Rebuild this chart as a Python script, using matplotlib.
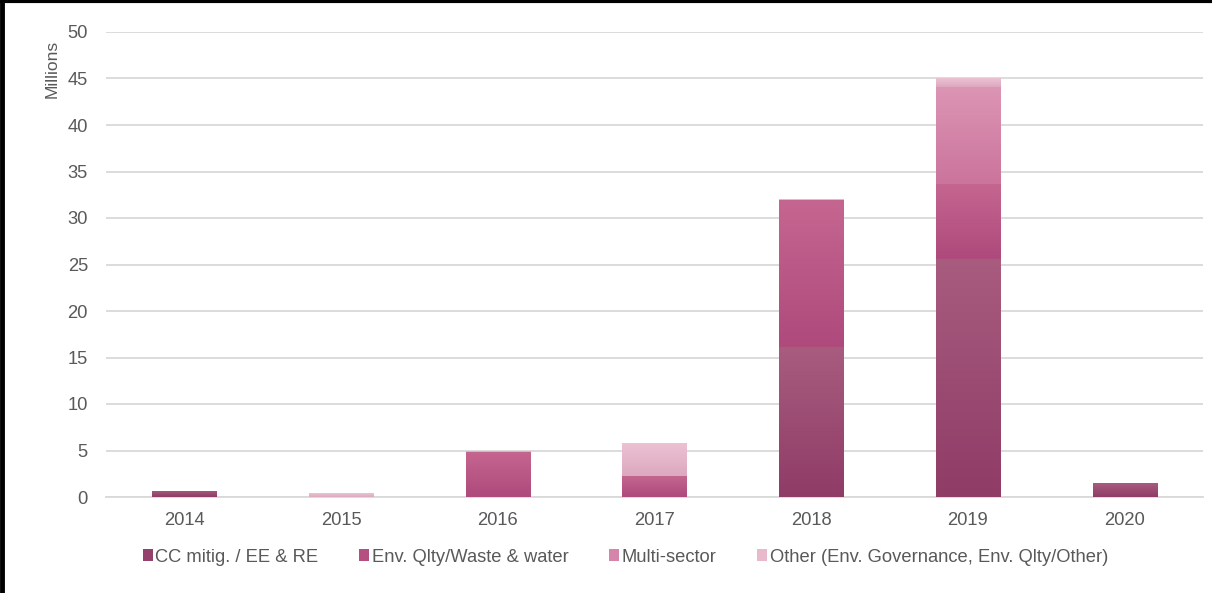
import matplotlib
matplotlib.use("Agg")
import matplotlib.pyplot as plt
import numpy as np
from matplotlib.colors import LinearSegmentedColormap
from matplotlib.patches import Rectangle
from matplotlib.lines import Line2D

plt.rcParams['font.family'] = ['Liberation Sans', 'DejaVu Sans']

years = ['2014', '2015', '2016', '2017', '2018', '2019', '2020']
cc_mitig = [0.65, 0.0, 0.0, 0.0, 16.1, 25.6, 1.5]
env_qlty = [0.0, 0.0, 4.85, 2.3, 15.8, 8.1, 0.0]
multi_sector = [0.0, 0.0, 0.0, 0.0, 0.0, 10.4, 0.0]
other = [0.0, 0.43, 0.12, 3.5, 0.1, 0.95, 0.0]

series_names = ['CC mitig. / EE & RE', 'Env. Qlty/Waste & water', 'Multi-sector',
                'Other (Env. Governance, Env. Qlty/Other)']
series_vals = [cc_mitig, env_qlty, multi_sector, other]
# (top colour, bottom colour) for the vertical gradient, legend colour
grad_colors = [('#a85c7e', '#8f3c67'), ('#c56690', '#ae4a7c'),
               ('#dc95b4', '#cb749c'), ('#ecc2d3', '#dca8bf')]
legend_colors = ['#94426d', '#b54f82', '#d585aa', '#e8b8cb']

fig = plt.figure(figsize=(12.12, 5.93), dpi=100)
ax = fig.add_axes([106/1212, 1 - 497/593, (1203-106)/1212, (497-32)/593])

x = np.arange(len(years))
width = 0.41
bottom = np.zeros(len(years))
for vals, (ctop, cbot), lc, name in zip(series_vals, grad_colors, legend_colors, series_names):
    vals = np.array(vals)
    bars = ax.bar(x, vals, width, bottom=bottom, color=lc, label=name, zorder=3, linewidth=0)
    cmap = LinearSegmentedColormap.from_list('g', [cbot, ctop])
    grad = np.linspace(0, 1, 256).reshape(-1, 1)
    for b, v in zip(bars, vals):
        if v <= 0:
            continue
        bx, by = b.get_x(), b.get_y()
        bw, bh = b.get_width(), b.get_height()
        im = ax.imshow(grad, cmap=cmap, origin='lower', aspect='auto',
                       extent=(bx, bx + bw, by, by + bh), zorder=4,
                       interpolation='bilinear')
        im.set_clip_path(b)
        # soft shadow
        ax.add_patch(Rectangle((bx + 0.004, by - 0.12), bw, bh, facecolor='#cccccc',
                               alpha=0.35, linewidth=0, zorder=2.5))
    bottom += vals

ax.set_xlim(-0.5, 6.5)
ax.set_ylim(0, 50)
ax.set_yticks(np.arange(0, 51, 5))
ax.set_xticks(x)
ax.set_xticklabels(years)
ax.yaxis.grid(True, color='#d9d9d9', linewidth=1.3, zorder=0)
ax.set_axisbelow(True)
for s in ['top', 'right', 'left']:
    ax.spines[s].set_visible(False)
ax.spines['bottom'].set_color('#d9d9d9')
ax.spines['bottom'].set_linewidth(1.3)
ax.tick_params(axis='both', length=0, labelsize=13.2, colors='#595959', pad=13)
ax.tick_params(axis='x', pad=11)
ax.set_ylabel('Millions', fontsize=12.5, color='#595959')
ax.yaxis.set_label_coords(-46/1097, 1 - 37/465)

handles = [Rectangle((0, 0), 1, 1, facecolor=c) for c in legend_colors]
fig.legend(handles, series_names, loc='center left', bbox_to_anchor=(126/1212, 1 - 557/593),
           ncol=4, frameon=False, fontsize=13.2, labelcolor='#595959',
           handlelength=0.58, handleheight=0.62, handletextpad=0.12, columnspacing=2.2)

# black frame on top and left edges
fig.add_artist(Line2D([0, 1], [1 - 1/593, 1 - 1/593], transform=fig.transFigure, color='black', linewidth=3))
fig.add_artist(Line2D([1.5/1212, 1.5/1212], [0, 1], transform=fig.transFigure, color='black', linewidth=3.5))

fig.savefig('out.png', dpi=100)
